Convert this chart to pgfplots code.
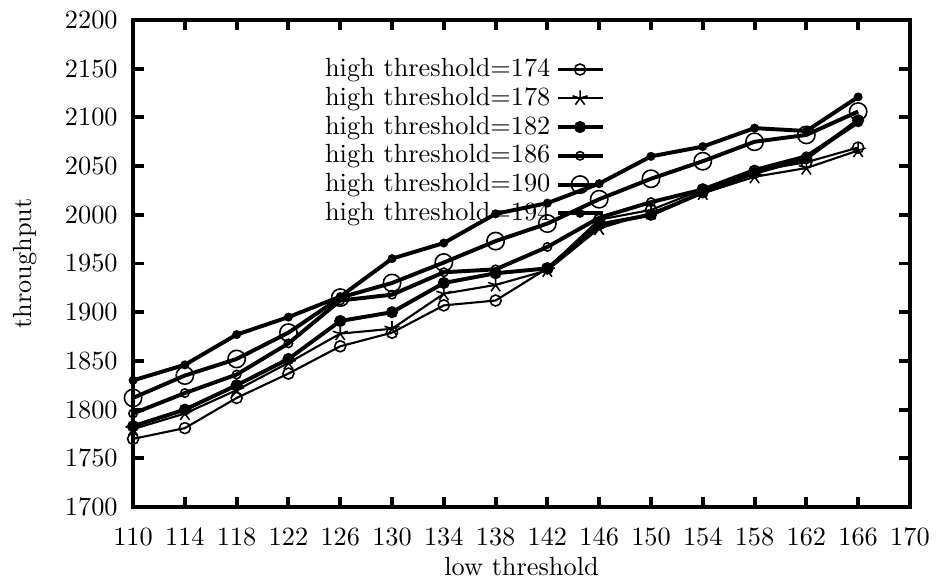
\documentclass[border=0pt]{standalone}
\usepackage{pgfplots}
\pgfplotsset{compat=1.18}
\begin{document}
\begin{tikzpicture}
\begin{axis}[
  scale only axis,
  width=295.4pt, height=185.2pt,
  xmin=110, xmax=170, ymin=1700, ymax=2200,
  xtick={110,114,...,170},
  ytick={1700,1750,...,2200},
  tick align=inside,
  major tick length=4pt,
  axis line style={line width=1.5pt},
  every tick/.style={line width=1.5pt, black},
  xticklabel style={anchor=center, inner sep=0pt, yshift=-11.4pt},
  yticklabel style={anchor=east, inner sep=0pt, xshift=-5.7pt},
  xlabel={low threshold},
  ylabel={throughput},
  xlabel style={at={(axis description cs:0.5,0)}, anchor=center, inner sep=0pt, yshift=-22.8pt},
  ylabel style={at={(axis description cs:0,0.5)}, anchor=center, inner sep=0pt, yshift=41pt},
  /pgf/number format/1000 sep={},
  legend plot pos=right,
  legend cell align=right,
  legend style={draw=none, fill=none, at={(0.6075,0.933)}, anchor=north east,
    row sep=-1.5pt, font=\normalsize, inner sep=0pt},
  every axis plot/.append style={black},
]
\addplot[line width=0.8pt, mark=o, mark size=2.1pt, mark options={line width=0.6pt}] coordinates {
(110,1770) (114,1781) (118,1812) (122,1837) (126,1865) (130,1879) (134,1907) (138,1912) (142,1945) (146,1995) (150,2005) (154,2026) (158,2045) (162,2054) (166,2069)};
\addlegendentry{high threshold=174}
\addplot[line width=0.8pt, mark=star, mark size=3pt, mark options={line width=0.6pt}] coordinates {
(110,1780) (114,1796) (118,1820) (122,1848) (126,1878) (130,1883) (134,1919) (138,1928) (142,1943) (146,1986) (150,2002) (154,2022) (158,2039) (162,2048) (166,2066)};
\addlegendentry{high threshold=178}
\addplot[line width=1.5pt, mark=*, mark size=2pt, mark options={line width=0.6pt}] coordinates {
(110,1783) (114,1800) (118,1825) (122,1852) (126,1891) (130,1900) (134,1930) (138,1940) (142,1945) (146,1990) (150,2000) (154,2023) (158,2043) (162,2058) (166,2097)};
\addlegendentry{high threshold=182}
\addplot[line width=1.5pt, mark=o, mark size=1.6pt, mark options={line width=0.6pt}] coordinates {
(110,1796) (114,1817) (118,1836) (122,1868) (126,1912) (130,1918) (134,1941) (138,1944) (142,1967) (146,1997) (150,2013) (154,2026) (158,2046) (162,2060) (166,2095)};
\addlegendentry{high threshold=186}
\addplot[line width=1.5pt, mark=o, mark size=3.3pt, mark options={line width=0.6pt}] coordinates {
(110,1812) (114,1835) (118,1852) (122,1879) (126,1915) (130,1930) (134,1951) (138,1973) (142,1991) (146,2016) (150,2037) (154,2055) (158,2075) (162,2082) (166,2106)};
\addlegendentry{high threshold=190}
\addplot[line width=1.5pt, mark=*, mark size=1.4pt, mark options={line width=0.6pt}] coordinates {
(110,1830) (114,1846) (118,1877) (122,1895) (126,1916) (130,1955) (134,1971) (138,2001) (142,2012) (146,2032) (150,2060) (154,2070) (158,2089) (162,2086) (166,2121)};
\addlegendentry{high threshold=194}
\end{axis}
\pgfresetboundingbox
\path[use as bounding box] ([xshift=-50.6pt,yshift=-28.1pt]current axis.south west) rectangle ([xshift=10.3pt,yshift=7.6pt]current axis.north east);
\end{tikzpicture}
\end{document}
